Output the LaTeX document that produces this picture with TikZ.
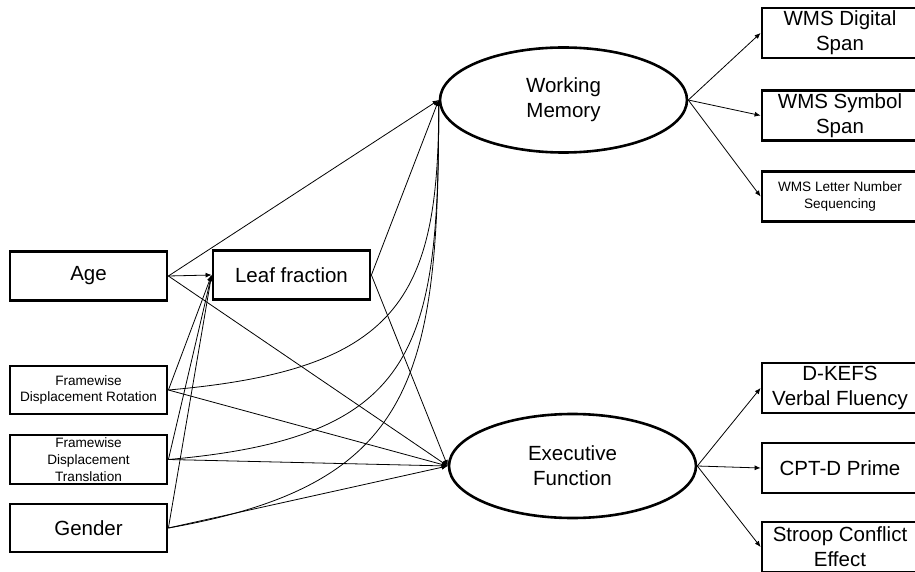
\documentclass[tikz,border=0pt]{standalone}
\usepackage{fontspec}
\setmainfont{Liberation Sans}
\usetikzlibrary{shapes.geometric,arrows.meta}
\newcommand{\bigtxt}{\fontsize{20.5}{25}\selectfont}
\newcommand{\smalltxt}{\fontsize{13.6}{16.7}\selectfont}

\begin{document}
\begin{tikzpicture}[x=1pt,y=1pt,
    obs/.style={draw,line width=2.8pt,minimum width=157pt,minimum height=49pt,inner sep=0pt,align=center,font=\bigtxt},
    obsr/.style={obs,minimum width=156pt,minimum height=50pt},
    lat/.style={draw,ellipse,line width=2.6pt,minimum width=247pt,minimum height=105pt,inner sep=0pt,align=center,font=\bigtxt},
    link/.style={line width=0.8pt,-{Latex[length=6pt,width=5pt]}}]
        \useasboundingbox (0,0) rectangle (915,571);

        % predictors
        \node[obs](age) at (88.5,295) {Age};
        \node[obs](leaf) at (291.5,296) {Leaf fraction};
        \node[obs,font=\smalltxt,minimum height=48pt](fdr) at (88.5,181) {Framewise\\Displacement Rotation};
        \node[obs,font=\smalltxt](fdt) at (88.5,111.5) {Framewise\\Displacement\\Translation};
        \node[obs,minimum height=48pt](gender) at (88.5,43) {Gender};

        % latent factors
        \node[lat](wm) at (563.5,471) {Working\\Memory};
        \node[lat,minimum height=104pt](ef) at (572.5,105) {Executive\\Function};

        % indicators
        \node[obsr](wmsd) at (840,538) {WMS Digital\\Span};
        \node[obsr](wmss) at (840,455.5) {WMS Symbol\\Span};
        \node[obsr,font=\smalltxt](wmsl) at (840,374.5) {WMS Letter Number\\Sequencing};
        \node[obsr](dkefs) at (840,183) {D-KEFS\\Verbal Fluency};
        \node[obsr](cpt) at (840,103) {CPT-D Prime};
        \node[obsr](stroop) at (840,24) {Stroop Conflict\\Effect};

        \begin{scope}[every edge/.style={draw,link}]
          \path
          (age.east) edge (wm.west) edge (leaf.west) edge (ef.west)
          (leaf.east) edge (wm.west) edge (ef.west)
          (fdr.east) edge (leaf.west) edge (ef.west)
          (fdt.east) edge (leaf.west) edge (ef.west)
          (gender.east) edge (leaf.west) edge (ef.west);
          \path
          (fdr.east) edge[out=5,in=-90,out distance=230pt,in distance=200pt] (wm.west)
          (fdt.east) edge[out=5,in=-90,out distance=250pt,in distance=250pt] (wm.west)
          (gender.east) edge[out=10,in=-90,out distance=250pt,in distance=280pt] (wm.west);
          \path
          (wm.east) edge (wmsd.west) edge (wmss.west) edge (wmsl.west)
          (ef.east) edge (dkefs.west) edge (cpt.west) edge (stroop.west);
        \end{scope}
\end{tikzpicture}
\end{document}
